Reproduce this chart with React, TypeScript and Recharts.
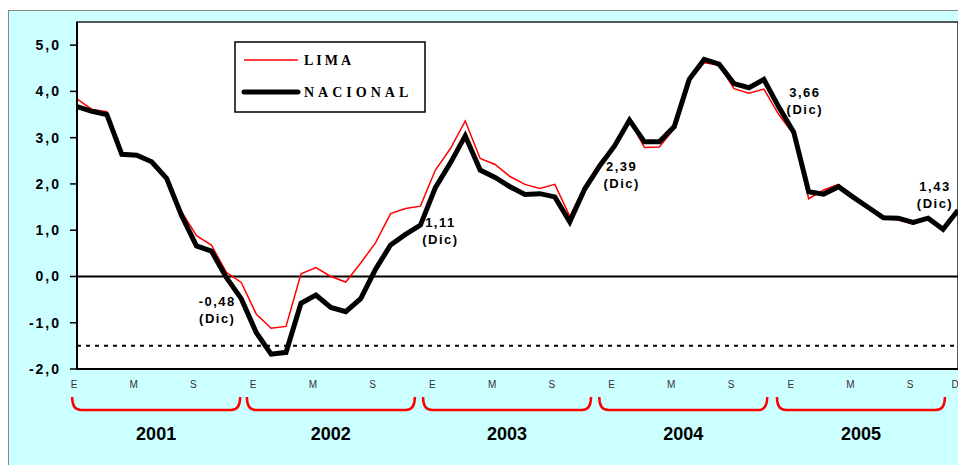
import React from 'react';
import { LineChart, Line, XAxis, YAxis, ReferenceLine, ReferenceArea, Legend } from 'recharts';

// monthly figures, Jan 2001 .. Dec 2005
const lima = [
  3.84, 3.61, 3.56, 2.64, 2.62, 2.48, 2.12, 1.40, 0.88, 0.68, 0.09, -0.13,
  -0.81, -1.12, -1.08, 0.06, 0.19, 0.0, -0.12, 0.29, 0.73, 1.36, 1.47, 1.52,
  2.30, 2.76, 3.36, 2.55, 2.42, 2.16, 1.99, 1.90, 1.99, 1.30, 1.94, 2.45,
  2.83, 3.38, 2.79, 2.80, 3.20, 4.24, 4.62, 4.57, 4.06, 3.96, 4.05, 3.50,
  3.07, 1.68, 1.87, 1.99, 1.73, 1.52, 1.31, 1.22, 1.13, 1.27, 1.02, 1.45,
];
const nacional = [
  3.67, 3.57, 3.50, 2.64, 2.62, 2.48, 2.12, 1.32, 0.66, 0.55, -0.02, -0.48,
  -1.21, -1.68, -1.64, -0.58, -0.40, -0.67, -0.76, -0.48, 0.16, 0.68, 0.91, 1.11,
  1.92, 2.45, 3.04, 2.30, 2.14, 1.94, 1.77, 1.79, 1.72, 1.18, 1.89, 2.39,
  2.82, 3.38, 2.91, 2.91, 3.24, 4.26, 4.69, 4.59, 4.17, 4.08, 4.26, 3.66,
  3.12, 1.83, 1.78, 1.94, 1.71, 1.49, 1.27, 1.26, 1.17, 1.26, 1.02, 1.43,
];

const monthTicks = [0, 4, 8, 12, 16, 20, 24, 28, 32, 36, 40, 44, 48, 52, 56, 59];
const monthLabels = ['E', 'M', 'S', 'E', 'M', 'S', 'E', 'M', 'S', 'E', 'M', 'S', 'E', 'M', 'S', 'D'];
const yearPos = [5.3, 17.0, 28.8, 40.6, 52.5];
const yearLabels = ['2001', '2002', '2003', '2004', '2005'];
const yTicks = [-2, -1, 0, 1, 2, 3, 4, 5];

// december callouts on the NACIONAL line
const notes = [
  { i: 11, text: '-0,48', dx: -24, dy: 7 },
  { i: 23, text: '1,11', dx: 20, dy: 2 },
  { i: 35, text: '2,39', dx: 22, dy: 5 },
  { i: 47, text: '3,66', dx: 26, dy: -10 },
  { i: 59, text: '1,43', dx: -23, dy: -19 },
];

const data = nacional.map((v, i) => ({ i, lima: lima[i], nacional: v }));

const font = '"Liberation Sans", Arial, sans-serif';
const serif = '"Liberation Serif", "Times New Roman", serif';

const YTick = ({ x, y, payload }: any) => (
  <text x={x} y={y} dy={5} textAnchor="end" fontFamily={font} fontSize={14} fontWeight="bold" fill="#000" letterSpacing={2}>
    {payload.value.toFixed(1).replace('.', ',')}
  </text>
);

const MonthTick = ({ x, y, payload }: any) => (
  <text x={x - 3} y={y} dy={19} textAnchor="middle" fontFamily={font} fontSize={10} fill="#333">
    {monthLabels[monthTicks.indexOf(payload.value)]}
  </text>
);

const YearTick = ({ x, y, payload }: any) => {
  const hw = 84;
  const top = y + 6;
  const bot = y + 19;
  const r = 9;
  const d = `M${x - hw},${top} Q${x - hw},${bot} ${x - hw + r},${bot} L${x + hw - r},${bot} Q${x + hw},${bot} ${x + hw},${top}`;
  return (
    <g>
      <path d={d} fill="none" stroke="#ff0000" strokeWidth={2.5} />
      <text x={x} y={y + 49} textAnchor="middle" fontFamily={font} fontSize={18} fontWeight="bold" fill="#000">
        {yearLabels[yearPos.indexOf(payload.value)]}
      </text>
    </g>
  );
};

const renderNote = (p: any) => {
  const n = notes.find((o) => o.i === p.index);
  if (!n) return <g key={`n${p.index}`} />;
  const cx = p.x + n.dx;
  return (
    <g key={`n${p.index}`} fontFamily={font} fontSize={13} fontWeight="bold" fill="#000">
      <text x={cx} y={p.y + n.dy} textAnchor="middle" letterSpacing={1.5}>{n.text}</text>
      <text x={cx} y={p.y + n.dy + 17} textAnchor="middle" letterSpacing={1.5}>(Dic)</text>
    </g>
  );
};

const LegendBox = () => (
  <svg width={192} height={72}>
    <rect x={1} y={1} width={190} height={70} fill="#fff" stroke="#000" strokeWidth={1.5} />
    <line x1={10} y1={19} x2={64} y2={19} stroke="#ff0000" strokeWidth={1.5} />
    <line x1={10} y1={51} x2={64} y2={51} stroke="#000" strokeWidth={5} strokeLinecap="round" />
    <text x={70} y={24} fontFamily={serif} fontSize={14} fontWeight="bold" letterSpacing={3}>LIMA</text>
    <text x={70} y={56} fontFamily={serif} fontSize={14} fontWeight="bold" letterSpacing={4}>NACIONAL</text>
  </svg>
);

export default function App() {
  return (
    <div style={{ width: 958, height: 460, marginTop: 2, background: '#ccffff', border: '1px solid #888' }}>
      <LineChart width={958} height={452} data={data} margin={{ top: 11, right: 9, bottom: 10, left: 8 }} style={{ overflow: 'visible' }}>
        <ReferenceArea x1={0} x2={59} y1={-2} y2={5.5} fill="#fff" fillOpacity={1} stroke="#222" strokeWidth={1.5} />
        <XAxis
          type="number"
          dataKey="i"
          domain={[0, 59]}
          ticks={monthTicks}
          interval={0}
          tickLine={false}
          tickSize={0}
          tickMargin={0}
          tick={<MonthTick />}
          axisLine={{ stroke: '#000', strokeWidth: 2 }}
          height={22}
        />
        <XAxis
          xAxisId="yr"
          type="number"
          dataKey="i"
          domain={[0, 59]}
          ticks={yearPos}
          interval={0}
          axisLine={false}
          tickLine={false}
          tickSize={0}
          tickMargin={0}
          tick={<YearTick />}
          height={62}
        />
        <YAxis
          domain={[-2, 5.5]}
          ticks={yTicks}
          interval={0}
          width={60}
          tickSize={7}
          tickMargin={9}
          tickLine={{ stroke: '#000', strokeWidth: 1.5 }}
          axisLine={{ stroke: '#000', strokeWidth: 2 }}
          tick={<YTick />}
        />
        <ReferenceLine y={0} stroke="#000" strokeWidth={2} />
        <ReferenceLine y={-1.5} stroke="#000" strokeWidth={2} strokeDasharray="4 5" />
        <Legend
          layout="vertical"
          align="center"
          verticalAlign="middle"
          content={<LegendBox />}
          wrapperStyle={{ left: 225, top: 30, width: 192, height: 72 }}
        />
        <Line dataKey="lima" name="LIMA" stroke="#ff0000" strokeWidth={1.5} dot={false} isAnimationActive={false} />
        <Line
          dataKey="nacional"
          name="NACIONAL"
          stroke="#000"
          strokeWidth={5}
          dot={false}
          label={renderNote}
          isAnimationActive={false}
        />
      </LineChart>
    </div>
  );
}
